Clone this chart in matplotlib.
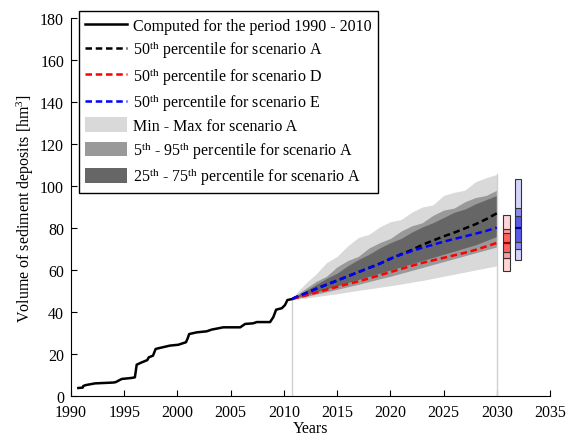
import matplotlib
matplotlib.use("Agg")
import matplotlib.pyplot as plt
from matplotlib.patches import Rectangle

plt.rcParams['font.family'] = ['Liberation Serif', 'DejaVu Serif']
plt.rcParams['mathtext.fontset'] = 'custom'
plt.rcParams['mathtext.rm'] = 'Liberation Serif'
plt.rcParams['mathtext.it'] = 'Liberation Serif:italic'
plt.rcParams['font.size'] = 11.5

# Historical computed volume 1990-2010
hist_years = [1990.69, 1991.1, 1991.16, 1991.4, 1992.25, 1993.97, 1994.2, 1994.76, 1995.7,
              1996.0, 1996.17, 1996.64, 1997.17, 1997.3, 1997.7, 1997.95, 1998.36, 1999.3,
              2000.08, 2000.8, 2000.97, 2001.1, 2001.8, 2002.75, 2003.2, 2004.0, 2004.3,
              2005.9, 2006.35, 2007.1, 2007.45, 2008.7, 2009.0, 2009.27, 2009.8, 2010.1,
              2010.33, 2010.8]
hist_vals = [3.8, 4.0, 4.8, 5.2, 6.0, 6.4, 6.6, 8.1, 8.6,
             8.9, 14.9, 16.0, 17.1, 18.4, 19.2, 22.4, 22.9, 24.0,
             24.4, 25.6, 27.6, 29.5, 30.3, 30.8, 31.6, 32.4, 32.7,
             32.7, 34.3, 34.6, 35.2, 35.2, 37.5, 41.1, 41.8, 43.3,
             45.7, 46.2]

# Projection period
proj_years = [2010.8, 2011, 2012, 2013, 2014, 2015, 2016, 2017, 2018, 2019, 2020,
              2021, 2022, 2023, 2024, 2025, 2026, 2027, 2028, 2029, 2030]
median_A = [46.2, 46.8, 48.8, 51.0, 53.0, 55.0, 57.0, 59.0, 61.0, 63.0, 65.3,
            67.5, 69.5, 72.0, 74.0, 76.0, 77.8, 79.8, 81.8, 84.2, 87.0]
median_D = [46.2, 46.5, 47.8, 49.2, 50.6, 52.0, 53.3, 54.6, 56.0, 57.5, 59.0,
            60.5, 62.0, 63.4, 64.6, 65.8, 67.0, 68.2, 69.6, 71.2, 72.9]
median_E = [46.2, 46.8, 48.8, 51.0, 53.0, 55.0, 57.0, 59.0, 61.0, 63.0, 65.5,
            67.3, 69.0, 70.6, 72.0, 73.5, 74.8, 76.0, 77.3, 78.6, 80.2]
max_A = [46.2, 48.0, 53.5, 58.0, 63.5, 66.5, 71.5, 75.5, 77.0, 80.5, 83.0,
         84.0, 87.5, 90.0, 91.0, 95.5, 97.0, 98.0, 102.0, 104.0, 105.5]
p95_A = [46.2, 47.5, 51.0, 54.5, 57.0, 61.5, 64.5, 66.5, 70.5, 73.0, 75.0,
         78.5, 81.0, 82.5, 86.0, 88.5, 89.5, 92.5, 94.5, 95.5, 98.0]
p75_A = [46.2, 47.2, 50.0, 53.0, 56.0, 58.5, 62.0, 65.0, 67.5, 70.5, 73.0,
         75.0, 78.0, 80.5, 82.5, 85.0, 87.5, 89.0, 91.5, 93.5, 95.5]
p25_A = [46.2, 46.6, 48.0, 49.5, 51.0, 52.5, 54.0, 55.5, 57.0, 58.5, 60.0,
         61.5, 63.0, 64.5, 66.0, 67.5, 69.0, 70.5, 72.0, 74.0, 76.0]
p05_A = [46.2, 46.3, 47.3, 48.5, 49.6, 50.8, 52.0, 53.2, 54.5, 55.8, 57.0,
         58.4, 59.8, 61.2, 62.6, 64.0, 65.4, 66.8, 68.2, 69.6, 71.0]
min_A = [46.2, 46.1, 46.6, 47.3, 48.0, 48.7, 49.5, 50.3, 51.0, 51.8, 52.5,
         53.3, 54.2, 55.0, 56.0, 57.0, 58.0, 59.0, 60.0, 61.0, 62.0]

# Box summaries in 2030: min, p5, p25, median, p75, p95, max
box_D = [59.4, 65.5, 68.4, 72.9, 77.4, 79.6, 86.4]
box_E = [64.7, 70.1, 73.5, 80.2, 85.9, 89.6, 103.5]

fig = plt.figure(figsize=(5.76, 4.39), dpi=100)
ax = fig.add_axes([0.1233, 0.0957, 0.8316, 0.861])

light, medium, dark = '#d9d9d9', '#999999', '#666666'
ax.fill_between(proj_years, min_A, max_A, color=light, lw=0,
                label='Min - Max for scenario A')
ax.fill_between(proj_years, p05_A, p95_A, color=medium, lw=0,
                label=r'5$^{\rm th}$ - 95$^{\rm th}$ percentile for scenario A')
ax.fill_between(proj_years, p25_A, p75_A, color=dark, lw=0,
                label=r'25$^{\rm th}$ - 75$^{\rm th}$ percentile for scenario A')

ax.plot([proj_years[0]] * 2, [0, median_A[0]], color='#d0d0d0', lw=1)
ax.plot([proj_years[-1]] * 2, [0, max_A[-1]], color='#d0d0d0', lw=1)

dash = (0, (2.6, 1.5))
l_hist, = ax.plot(hist_years, hist_vals, color='black', lw=1.8,
                  label='Computed for the period 1990 - 2010')
l_a, = ax.plot(proj_years, median_A, color='black', lw=1.8, ls=dash,
               label=r'50$^{\rm th}$ percentile for scenario A')
l_d, = ax.plot(proj_years, median_D, color='red', lw=1.8, ls=dash,
               label=r'50$^{\rm th}$ percentile for scenario D')
l_e, = ax.plot(proj_years, median_E, color='blue', lw=1.8, ls=dash,
               label=r'50$^{\rm th}$ percentile for scenario E')


def draw_box(x0, w, vals, c_light, c_mid, c_dark, c_med):
    mn, p5, p25, med, p75, p95, mx = vals
    segs = [(mn, p5, c_light), (p5, p25, c_mid), (p25, p75, c_dark),
            (p75, p95, c_mid), (p95, mx, c_light)]
    for lo, hi, c in segs:
        ax.add_patch(Rectangle((x0, lo), w, hi - lo, facecolor=c,
                               edgecolor='#333333', lw=0.8, zorder=5))
    ax.plot([x0, x0 + w], [med, med], color=c_med, lw=1.6, zorder=6,
            solid_capstyle='butt')


draw_box(2030.62, 0.62, box_D, '#ffd4d4', '#ff9a9a', '#ff6060', '#990000')
draw_box(2031.68, 0.56, box_E, '#d4d4fa', '#8a8af2', '#5a5aea', '#000080')

ax.set_xlim(1990, 2035)
ax.set_ylim(0, 180)
ax.set_xticks(range(1990, 2036, 5))
ax.set_yticks(range(0, 181, 20))
ax.spines['top'].set_visible(False)
ax.spines['right'].set_visible(False)
ax.tick_params(direction='in', length=4, labelsize=11.5)
ax.tick_params(axis='x', pad=5.5)
ax.tick_params(axis='y', pad=5)
ax.set_xlabel('Years', fontsize=11.5, labelpad=0)
ax.set_ylabel(r'Volume of sediment deposits [hm$^3$]', fontsize=11.5, labelpad=3)

h_sorted = [l_hist, l_a, l_d, l_e] + ax.collections[:3]
leg = ax.legend(handles=h_sorted, loc='upper left', bbox_to_anchor=(0.0, 1.04),
                frameon=True, fancybox=False, edgecolor='black', framealpha=1,
                handlelength=2.6, handleheight=1.05, labelspacing=0.27,
                borderpad=0.4, handletextpad=0.4, fontsize=11.5)
leg.get_frame().set_linewidth(1.0)

fig.savefig('out.png', dpi=100)
